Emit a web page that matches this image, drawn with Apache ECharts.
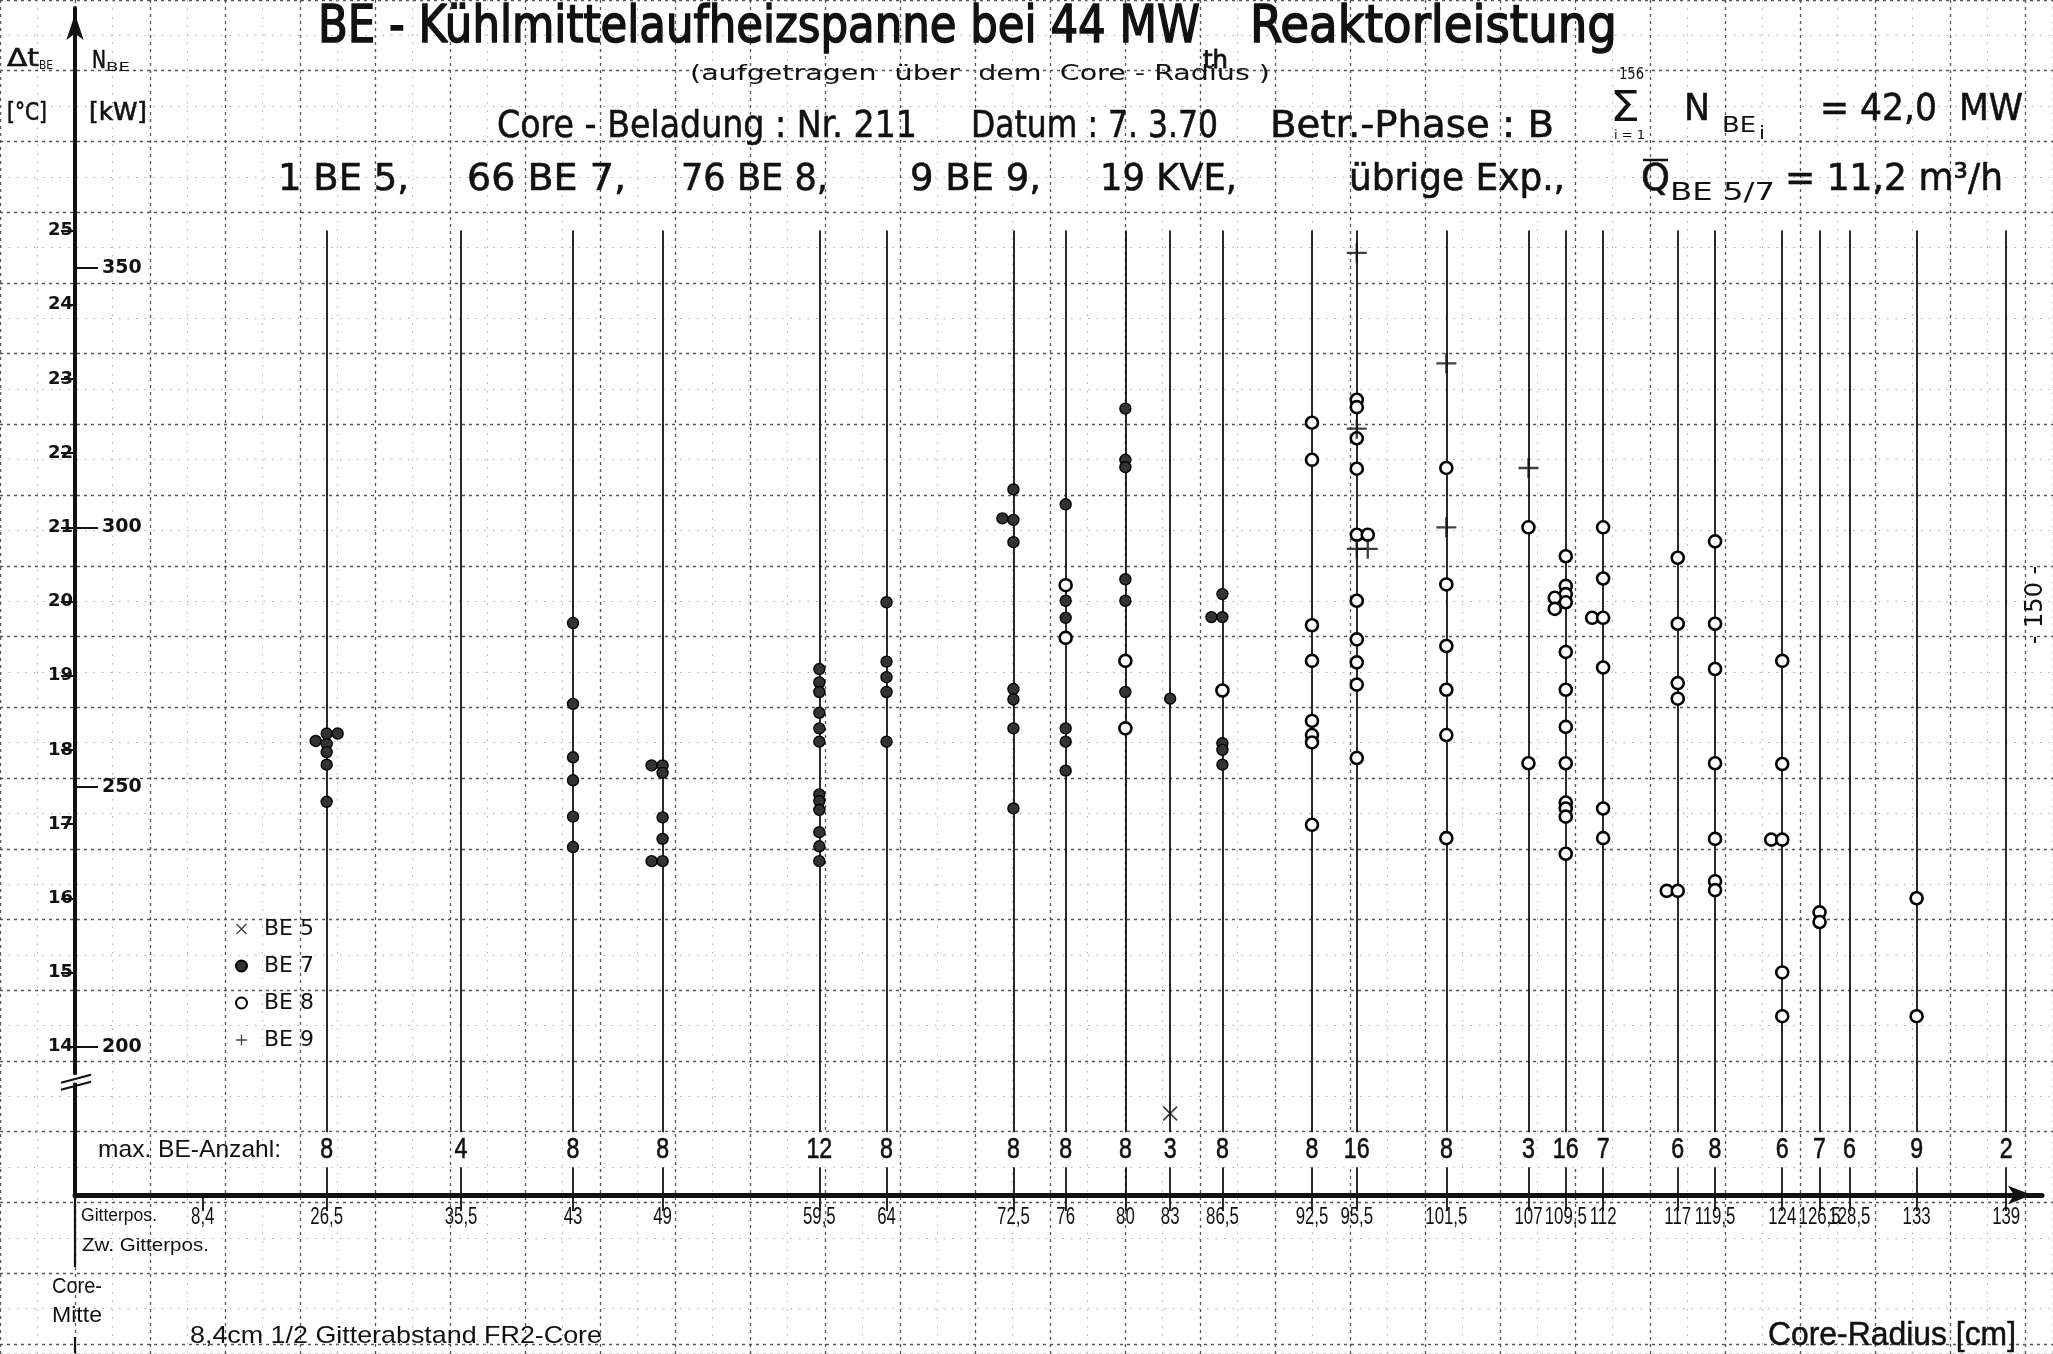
<!DOCTYPE html>
<html>
<head>
<meta charset="utf-8">
<title>BE-Kühlmittelaufheizspanne</title>
<script src="https://cdn.jsdelivr.net/npm/echarts@6/dist/echarts.min.js"></script>
<style>
  html, body { margin: 0; padding: 0; background: #fff; }
  #chart { width: 2053px; height: 1354px; }
</style>
</head>
<body>
<div id="chart"></div>
<script>
// ---------------------------------------------------------------
// Grid positions of the fuel elements (core radius in cm)
const positions = [26.5, 35.5, 43, 49, 59.5, 64, 72.5, 76, 80, 83, 86.5, 92.5, 95.5,
                   101.5, 107, 109.5, 112, 117, 119.5, 124, 126.5, 128.5, 133, 139];
// maximum number of elements that fit on each grid position
const maxCounts = [8, 4, 8, 8, 12, 8, 8, 8, 8, 3, 8, 8, 16, 8, 3, 16, 7, 6, 8, 6, 7, 6, 9, 2];
// radius tick labels (first one is the half grid pitch)
const radiusTicks = [8.4].concat(positions);
// temperature rise ticks (°C) and element power ticks (kW)
const tempTicks = [14, 15, 16, 17, 18, 19, 20, 21, 22, 23, 24, 25];
const powerTicks = [200, 250, 300, 350];

// measured points: [core radius cm, Δt °C, side shift (-1 left of line, 0 on line, 1 right)]
const be5 = [[83, 13.1, 0]];
const be7 = [
  [26.5, 18.12, -1], [26.5, 18.22, 0], [26.5, 18.22, 1], [26.5, 18.08, 0], [26.5, 17.97, 0], [26.5, 17.80, 0], [26.5, 17.30, 0],
  [43, 19.71, 0], [43, 18.62, 0], [43, 17.90, 0], [43, 17.59, 0], [43, 17.10, 0], [43, 16.69, 0],
  [49, 17.79, -1], [49, 17.79, 0], [49, 17.69, 0], [49, 17.09, 0], [49, 16.80, 0], [49, 16.50, -1], [49, 16.50, 0],
  [59.5, 19.09, 0], [59.5, 18.91, 0], [59.5, 18.78, 0], [59.5, 18.50, 0], [59.5, 18.29, 0], [59.5, 18.11, 0],
  [59.5, 17.40, 0], [59.5, 17.31, 0], [59.5, 17.19, 0], [59.5, 16.89, 0], [59.5, 16.70, 0], [59.5, 16.50, 0],
  [64, 19.99, 0], [64, 19.19, 0], [64, 18.98, 0], [64, 18.78, 0], [64, 18.11, 0],
  [72.5, 21.51, 0], [72.5, 21.12, -1], [72.5, 21.10, 0], [72.5, 20.80, 0], [72.5, 18.82, 0], [72.5, 18.68, 0], [72.5, 18.29, 0], [72.5, 17.21, 0],
  [76, 21.31, 0], [76, 20.01, 0], [76, 19.78, 0], [76, 18.29, 0], [76, 18.11, 0], [76, 17.72, 0],
  [80, 22.60, 0], [80, 21.91, 0], [80, 21.81, 0], [80, 20.30, 0], [80, 20.01, 0], [80, 18.78, 0],
  [83, 18.69, 0],
  [86.5, 20.10, 0], [86.5, 19.79, -1], [86.5, 19.79, 0], [86.5, 18.09, 0], [86.5, 18.00, 0], [86.5, 17.80, 0]
];
const be8 = [
  [76, 20.22, 0], [76, 19.51, 0],
  [80, 19.20, 0], [80, 18.29, 0],
  [86.5, 18.80, 0],
  [92.5, 22.41, 0], [92.5, 21.91, 0], [92.5, 19.68, 0], [92.5, 19.20, 0], [92.5, 18.39, 0], [92.5, 18.20, 0], [92.5, 18.10, 0], [92.5, 16.99, 0],
  [95.5, 22.72, 0], [95.5, 22.62, 0], [95.5, 22.20, 0], [95.5, 21.79, 0], [95.5, 20.90, 0], [95.5, 20.90, 1],
  [95.5, 20.01, 0], [95.5, 19.49, 0], [95.5, 19.18, 0], [95.5, 18.88, 0], [95.5, 17.89, 0],
  [101.5, 21.80, 0], [101.5, 20.23, 0], [101.5, 19.40, 0], [101.5, 18.81, 0], [101.5, 18.20, 0], [101.5, 16.81, 0],
  [107, 21.00, 0], [107, 17.82, 0],
  [109.5, 20.61, 0], [109.5, 20.21, 0], [109.5, 20.10, 0], [109.5, 20.05, -1], [109.5, 19.99, 0], [109.5, 19.90, -1],
  [109.5, 19.32, 0], [109.5, 18.81, 0], [109.5, 18.31, 0], [109.5, 17.82, 0], [109.5, 17.29, 0], [109.5, 17.21, 0],
  [109.5, 17.10, 0], [109.5, 16.60, 0],
  [112, 21.00, 0], [112, 20.31, 0], [112, 19.78, -1], [112, 19.78, 0], [112, 19.11, 0], [112, 17.21, 0], [112, 16.81, 0],
  [117, 20.59, 0], [117, 19.70, 0], [117, 18.90, 0], [117, 18.69, 0], [117, 16.10, -1], [117, 16.10, 0],
  [119.5, 20.81, 0], [119.5, 19.70, 0], [119.5, 19.09, 0], [119.5, 17.82, 0], [119.5, 16.80, 0], [119.5, 16.23, 0], [119.5, 16.11, 0],
  [124, 19.20, 0], [124, 17.81, 0], [124, 16.79, -1], [124, 16.79, 0], [124, 15.00, 0], [124, 14.41, 0],
  [126.5, 15.81, 0], [126.5, 15.68, 0],
  [133, 16.00, 0], [133, 14.41, 0]
];
const be9 = [
  [95.5, 24.70, 0], [95.5, 22.33, 0], [95.5, 20.71, 0], [95.5, 20.71, 1],
  [101.5, 23.21, 0], [101.5, 21.00, 0],
  [107, 21.80, 0]
];

// ---------------------------------------------------------------
// layout
const W = 2053, H = 1354;
const GRID = { left: 75, right: 11, top: 8, bottom: 159 };
const X_MIN = 9.64, X_MAX = 141.4;       // radius scale at the vertical axis / at the arrow
const T_MIN = 12, T_MAX = 28;            // Δt range of the plot frame
const LINE_TOP = 25;                      // upper end of the grid-position lines
const COUNT_ROW = 12.61;                  // level of the "max. BE-Anzahl" row
const BREAK_AT = 13.54;                   // axis break mark
const SIDE_SHIFT = 11;                    // px shift for points drawn beside the line
const INK = '#111';
const SANS = "'DejaVu Sans','Liberation Sans',sans-serif";
const LIB = "'Liberation Sans','DejaVu Sans',sans-serif";

// the stretch between core centre and the first grid position is drawn shortened
const RADIUS_BREAK = [[0, 9.64], [8.4, 18.2], [26.5, 26.5]];
function warp(cm) {
  if (cm >= RADIUS_BREAK[2][0]) return cm;
  for (let i = 1; i < RADIUS_BREAK.length; i++) {
    const [a0, b0] = RADIUS_BREAK[i - 1], [a1, b1] = RADIUS_BREAK[i];
    if (cm <= a1) return b0 + (cm - a0) * (b1 - b0) / (a1 - a0);
  }
  return cm;
}
const fmtRadius = v => String(v).replace('.', ',');
// element power belonging to a temperature rise (14 °C ≙ 200 kW, 21 °C ≙ 300 kW)
const kW = t => 200 + (t - 14) * 100 / 7;

// grid paper pitch
const plotH = H - GRID.top - GRID.bottom;
const STEP_Y = plotH / (T_MAX - T_MIN);
const STEP_X = 75;
const PAPER_TOP = GRID.top - STEP_Y;

function points(arr) {
  return arr.map(d => ({ value: [warp(d[0]), d[1]], symbolOffset: [d[2] * SIDE_SHIFT, 0] }));
}

const PLUS = 'path://M5.3,0h1.4v5.3h5.3v1.4h-5.3v5.3h-1.4v-5.3h-5.3v-1.4h5.3z';
const CROSS = 'path://M0,1L1,0L6,5L11,0L12,1L7,6L12,11L11,12L6,7L1,12L0,11L5,6Z';

const paperMajor = { color: '#555', width: 1.3, type: [3, 4] };
const paperMinor = { color: '#acacac', width: 1, type: [1.5, 7] };

// narrow lettering: condensed copy of a regular face
function narrowText(text, x, y, size, squeeze, extra) {
  return {
    type: 'text', x, y, scaleX: squeeze,
    style: Object.assign({ text, font: `normal ${size}px ${LIB}`, fill: INK,
      align: 'center', textAlign: 'center', verticalAlign: 'middle', textVerticalAlign: 'middle' }, extra || {})
  };
}

const option = {
  animation: false,
  backgroundColor: '#fff',
  grid: [
    { left: GRID.left, right: GRID.right, top: GRID.top, bottom: GRID.bottom },
    { left: 0, right: 0, top: PAPER_TOP, bottom: 0, z: 0 }
  ],
  legend: {
    orient: 'vertical', left: 230, top: 911,
    itemWidth: 11, itemHeight: 11, itemGap: 11,
    selectedMode: false,
    textStyle: { fontFamily: SANS, fontSize: 22, color: INK, lineHeight: 26, padding: [0, 0, 0, 12] },
    data: ['BE 5', 'BE 7', 'BE 8', 'BE 9']
  },
  xAxis: [
    {
      type: 'value', gridIndex: 0, min: X_MIN, max: X_MAX,
      axisLine: { show: true, lineStyle: { color: INK, width: 5 },
        symbol: ['none', 'arrow'], symbolSize: [14, 24], symbolOffset: [0, -10] },
      axisTick: { show: true, customValues: radiusTicks.map(warp), length: 16, lineStyle: { color: INK, width: 1.8 } },
      axisLabel: { show: false },
      splitLine: { show: false }
    },
    {
      type: 'value', gridIndex: 1, min: 0, max: W / STEP_X, interval: 1,
      axisLine: { show: false }, axisTick: { show: false }, axisLabel: { show: false },
      splitLine: { show: true, lineStyle: paperMajor },
      minorTick: { show: false, splitNumber: 2 },
      minorSplitLine: { show: true, lineStyle: paperMinor }
    }
  ],
  yAxis: [
    {
      type: 'value', gridIndex: 0, min: T_MIN, max: T_MAX, position: 'left',
      axisLine: { show: true, lineStyle: { color: INK, width: 4 },
        symbol: ['none', 'arrow'], symbolSize: [13, 26], symbolOffset: [0, -6] },
      axisTick: { show: true, customValues: tempTicks, length: 14, lineStyle: { color: INK, width: 2 } },
      axisLabel: { show: true, customValues: tempTicks, fontFamily: SANS, fontWeight: 'bold',
        fontSize: 18, color: INK, margin: 2 },
      splitLine: { show: false }
    },
    {
      type: 'value', gridIndex: 0, min: kW(T_MIN), max: kW(T_MAX), position: 'left', offset: 0,
      axisLine: { show: false },
      axisTick: { show: true, inside: true, customValues: powerTicks, length: 23, lineStyle: { color: INK, width: 2 } },
      axisLabel: { show: true, inside: true, customValues: powerTicks, fontFamily: SANS, fontWeight: 'bold',
        fontSize: 19, color: INK, margin: 27 },
      splitLine: { show: false }
    },
    {
      type: 'value', gridIndex: 1, inverse: true, min: 0, max: (H - PAPER_TOP) / STEP_Y, interval: 1,
      axisLine: { show: false }, axisTick: { show: false }, axisLabel: { show: false },
      splitLine: { show: true, lineStyle: paperMajor },
      minorTick: { show: false, splitNumber: 2 },
      minorSplitLine: { show: true, lineStyle: paperMinor }
    }
  ],
  series: [
    {
      name: 'Gitterpositionen', type: 'lines', coordinateSystem: 'cartesian2d',
      xAxisIndex: 0, yAxisIndex: 0, silent: true, z: 3,
      lineStyle: { color: INK, width: 1.8, opacity: 1 },
      data: positions.map(p => ({ coords: [[warp(p), T_MIN], [warp(p), LINE_TOP]] }))
    },
    {
      // radius labels below the axis
      name: 'Gitterpos.', type: 'custom', xAxisIndex: 0, yAxisIndex: 0, silent: true, z: 5, clip: false,
      data: radiusTicks.map(r => [warp(r), T_MIN]),
      renderItem: (params, api) => {
        const p = api.coord([api.value(0), api.value(1)]);
        return narrowText(fmtRadius(radiusTicks[params.dataIndex]), p[0], p[1] + 22, 24, 0.7);
      }
    },
    {
      // maximum element count per grid position
      name: 'max. BE-Anzahl', type: 'custom', xAxisIndex: 0, yAxisIndex: 0, silent: true, z: 5, clip: false,
      data: positions.map((p, i) => [warp(p), COUNT_ROW, maxCounts[i]]),
      renderItem: (params, api) => {
        const p = api.coord([api.value(0), api.value(1)]);
        return narrowText(String(maxCounts[params.dataIndex]), p[0], p[1], 29, 0.8,
          { backgroundColor: '#fff', padding: [3, 3], stroke: INK, lineWidth: 0.6 });
      }
    },
    {
      name: 'BE 5', type: 'scatter', xAxisIndex: 0, yAxisIndex: 0, z: 6,
      symbol: CROSS, symbolSize: 15, itemStyle: { color: INK },
      data: points(be5)
    },
    {
      name: 'BE 7', type: 'scatter', xAxisIndex: 0, yAxisIndex: 0, z: 6,
      symbol: 'circle', symbolSize: 11,
      itemStyle: { color: '#333', borderColor: '#000', borderWidth: 1.4, opacity: 1 },
      data: points(be7)
    },
    {
      name: 'BE 8', type: 'scatter', xAxisIndex: 0, yAxisIndex: 0, z: 6,
      symbol: 'circle', symbolSize: 12,
      itemStyle: { color: '#fff', borderColor: '#000', borderWidth: 2.6, opacity: 1 },
      data: points(be8)
    },
    {
      name: 'BE 9', type: 'scatter', xAxisIndex: 0, yAxisIndex: 0, z: 6,
      symbol: PLUS, symbolSize: 20, itemStyle: { color: INK },
      data: points(be9)
    }
  ]
};

const chart = echarts.init(document.getElementById('chart'), null, { renderer: 'canvas', width: W, height: H });
chart.setOption(option);

// ---------------------------------------------------------------
// lettering of the sheet
const ctx2d = document.createElement('canvas').getContext('2d');
function fitText(str, left, midY, size, width, family, heavy) {
  const font = `normal ${size}px ${family || SANS}`;
  ctx2d.font = font;
  const w = ctx2d.measureText(str).width || 1;
  const style = { text: str, font, fill: INK, align: 'left', textAlign: 'left',
                  verticalAlign: 'middle', textVerticalAlign: 'middle' };
  if (heavy) { style.stroke = INK; style.lineWidth = heavy; }
  return { type: 'text', x: left, y: midY, scaleX: width ? width / w : 1, silent: true, z: 20, style };
}
function rule(x1, y1, x2, y2, width) {
  return { type: 'line', silent: true, z: 20, shape: { x1, y1, x2, y2 },
           style: { stroke: INK, lineWidth: width || 2 } };
}

const corner = chart.convertToPixel({ xAxisIndex: 0, yAxisIndex: 0 }, [X_MIN, T_MIN]);
const brk = chart.convertToPixel({ xAxisIndex: 0, yAxisIndex: 0 }, [X_MIN, BREAK_AT]);
const ax = corner[0];

const graphics = [
  // title block
  fitText('BE - Kühlmittelaufheizspanne bei 44 MW', 318, 28, 52, 882, SANS, 1.6),
  fitText('th', 1203, 62, 24, 25, SANS, 0.8),
  fitText('Reaktorleistung', 1250, 28, 52, 367, SANS, 1.6),
  fitText('(aufgetragen  über  dem  Core - Radius )', 690, 75, 21, 580),
  fitText('Core - Beladung : Nr. 211', 497, 127, 38, 420, SANS, 0.6),
  fitText('Datum : 7. 3.70', 971, 127, 38, 247, SANS, 0.6),
  fitText('Betr.-Phase : B', 1270, 127, 38, 284, SANS, 0.6),
  fitText('156', 1619, 75, 16, 25),
  fitText('Σ', 1610, 110, 42, 30),
  fitText('i = 1', 1614, 136, 13, 31),
  fitText('N', 1684, 110, 38, 26, SANS, 0.6),
  fitText('BE', 1722, 126, 22, 34),
  fitText('i', 1759, 134, 18, 6),
  fitText('= 42,0  MW', 1820, 110, 38, 203, SANS, 0.6),
  fitText('1 BE 5,', 278, 180, 38, 131, SANS, 0.6),
  fitText('66 BE 7,', 467, 180, 38, 159, SANS, 0.6),
  fitText('76 BE 8,', 681, 180, 38, 147, SANS, 0.6),
  fitText('9 BE 9,', 910, 180, 38, 131, SANS, 0.6),
  fitText('19 KVE,', 1100, 180, 38, 137, SANS, 0.6),
  fitText('übrige Exp.,', 1349, 180, 38, 216, SANS, 0.6),
  fitText('Q', 1641, 180, 38, 29, SANS, 0.6),
  rule(1643, 160, 1668, 160, 2.5),
  fitText('BE 5/7', 1670, 194, 24, 105),
  fitText('= 11,2 m³/h', 1785, 180, 38, 218, SANS, 0.6),
  // axis headings
  fitText('Δt', 7, 60, 24, 32, SANS, 0.6),
  fitText('BE', 39, 66, 12, 14),
  fitText('[°C]', 7, 114, 24, 40, SANS, 0.6),
  fitText('N', 92, 62, 24, 14, SANS, 0.6),
  fitText('BE', 106, 68, 13, 24),
  fitText('[kW]', 89, 114, 24, 58, SANS, 0.6),
  // lower labels
  fitText('max. BE-Anzahl:', 98, 1150, 24, 183, LIB),
  fitText('Gitterpos.', 81, 1216, 18, 76, LIB),
  fitText('Zw. Gitterpos.', 82, 1246, 18, 127, LIB),
  fitText('Core-', 52, 1287, 22, 50, LIB),
  fitText('Mitte', 52, 1316, 22, 50, LIB),
  fitText('8,4cm 1/2 Gitterabstand FR2-Core', 190, 1336, 24, 412, LIB),
  fitText('Core-Radius [cm]', 1768, 1336, 34, 248, LIB, 0.5),
  {
    type: 'text', x: 2036, y: 605, rotation: Math.PI / 2, silent: true, z: 20,
    style: { text: '- 150 -', font: `normal 24px ${SANS}`, fill: INK,
             align: 'center', textAlign: 'center', verticalAlign: 'middle', textVerticalAlign: 'middle' }
  },
  // vertical axis continued below the radius axis down to the core centre mark
  rule(ax, corner[1], ax, corner[1] + 72, 2.2),
  rule(ax, corner[1] + 142, ax, corner[1] + 158, 2.2),
  // break mark on the vertical axis
  { type: 'rect', silent: true, z: 19, shape: { x: ax - 4, y: brk[1] - 6, width: 8, height: 8 }, style: { fill: '#fff' } },
  rule(ax - 14, brk[1] + 2, ax + 16, brk[1] - 6, 2.2),
  rule(ax - 14, brk[1] + 9, ax + 16, brk[1] + 1, 2.2)
];

chart.setOption({ graphic: graphics });
</script>
</body>
</html>
